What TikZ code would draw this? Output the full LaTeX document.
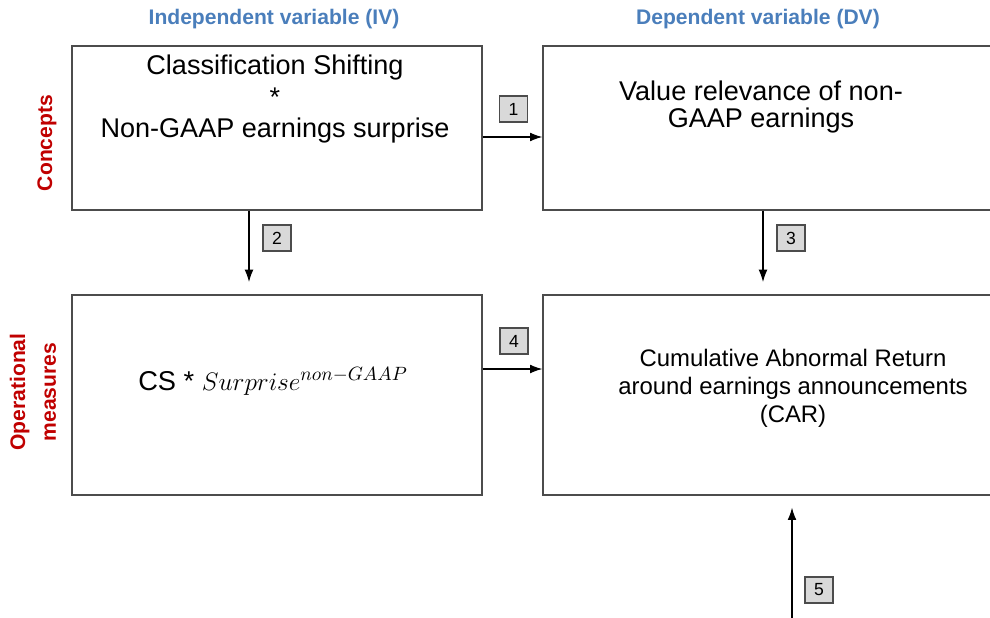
\documentclass[tikz,border=0pt]{standalone}
\usepackage{fontspec}
\setmainfont{Liberation Sans}
\usetikzlibrary{positioning,arrows.meta}

\definecolor{hdrblue}{HTML}{4A7EBB}
\definecolor{rowred}{HTML}{C00000}

\begin{document}
\begin{tikzpicture}[x=0.02cm, y=-0.02cm, >={Latex[length=7pt,width=5pt]},
    box/.style={draw=black!70, line width=0.8pt, minimum height=3.28cm, inner sep=0pt},
    lowbox/.style={box, minimum height=4cm},
    bigtxt/.style={font=\fontsize{15.4}{18.1}\selectfont, align=center, anchor=base},
    cartxt/.style={font=\fontsize{13.6}{15.9}\selectfont, align=center, anchor=base},
    header/.style={font=\fontsize{12}{14}\selectfont\bfseries, text=hdrblue, anchor=base},
    rowname/.style={font=\fontsize{12}{17.5}\selectfont\bfseries, text=rowred, rotate=90, align=center},
    numbox/.style={draw=black!70, fill=black!15, line width=0.6pt, inner sep=0pt,
        minimum width=0.56cm, minimum height=0.52cm, font=\fontsize{10}{12}\selectfont},
    link/.style={->, line width=0.6pt}]
    \useasboundingbox (0,0) rectangle (990,618);

    % column and row titles
    \node[header] (ivHead) at (274,25) {Independent variable (IV)};
    \node[header] (dvHead) at (758,25) {Dependent variable (DV)};
    \node[rowname] (conRow) at (47,143) {Concepts};
    \node[rowname] (opRow) at (33,392) {Operational\\measures};

    % the four boxes
    \node[box, minimum width=8.2cm] (concIV) at (277,128) {};
    \node[box, minimum width=9.14cm] (concDV) at (771.5,128) {};
    \node[lowbox, minimum width=8.2cm] (opIV) at (277,395) {};
    \node[lowbox, minimum width=9.14cm] (opDV) at (771.5,395) {};

    % base anchor sits on the last line
    \node[bigtxt] (csText) at (275,138) {Classification Shifting\\*\\Non-GAAP earnings surprise};
    \node[bigtxt, font=\fontsize{15.4}{15.9}\selectfont] (vrText) at (761,128)
        {Value relevance of non-\\GAAP earnings};
    \node[bigtxt, font=\fontsize{15.5}{18}\selectfont] (msText) at (273,390)
        {CS * $Surprise^{non-GAAP}$};
    \node[cartxt] (carText) at (793,422)
        {Cumulative Abnormal Return\\around earnings announcements\\(CAR)};

    % connectors
    \coordinate (a1) at (0,137);
    \coordinate (a2) at (249,282);
    \coordinate (a3) at (763,282);
    \coordinate (a4) at (0,369);
    \coordinate (a5) at (792,618);

    \draw[link] (concIV.east |- a1) -- (concDV.west |- a1);
    \draw[link] (concIV.south -| a2) -- (a2);
    \draw[link] (concDV.south -| a3) -- (a3);
    \draw[link] (opIV.east |- a4) -- (opDV.west |- a4);
    \draw[link, shorten >=0.24cm] (a5) -- (opDV.south -| a5);

    \node[numbox] (n1) at (513.5,109) {1};
    \node[numbox] (n2) at (277,238) {2};
    \node[numbox] (n3) at (791,238) {3};
    \node[numbox] (n4) at (514,341) {4};
    \node[numbox] (n5) at (819,590) {5};
\end{tikzpicture}
\end{document}
